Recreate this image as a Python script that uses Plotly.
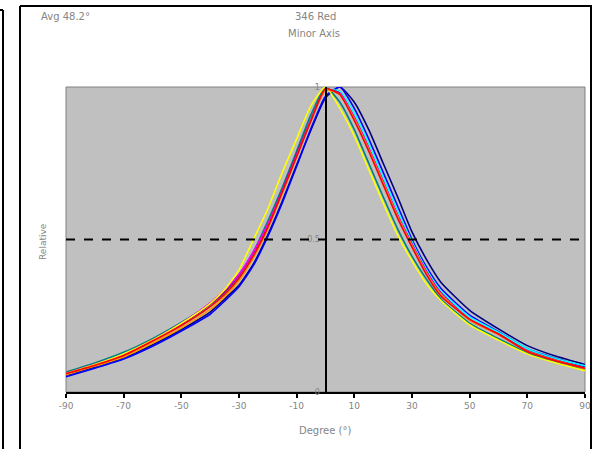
import plotly.graph_objects as go

# ---- data ----
degrees = [-90, -80, -70, -60, -50, -40, -35, -30, -25, -20, -15, -10, -5, 0,
           5, 10, 15, 20, 25, 30, 35, 40, 50, 60, 70, 80, 90]

navy = [0.055, 0.082, 0.112, 0.155, 0.205, 0.262, 0.305, 0.35, 0.42, 0.515, 0.625, 0.745, 0.86, 0.965,
        1.0, 0.95, 0.86, 0.75, 0.64, 0.525, 0.435, 0.36, 0.268, 0.207, 0.152, 0.117, 0.09]
blue = [0.05, 0.078, 0.108, 0.15, 0.2, 0.255, 0.298, 0.345, 0.415, 0.51, 0.62, 0.74, 0.865, 0.97,
        1.0, 0.93, 0.83, 0.72, 0.61, 0.5, 0.41, 0.34, 0.252, 0.198, 0.142, 0.11, 0.083]
cyan = [0.062, 0.092, 0.125, 0.17, 0.222, 0.285, 0.325, 0.38, 0.455, 0.55, 0.66, 0.78, 0.9, 0.99,
        0.985, 0.915, 0.815, 0.705, 0.595, 0.492, 0.402, 0.332, 0.246, 0.196, 0.142, 0.109, 0.086]
teal = [0.065, 0.095, 0.13, 0.175, 0.228, 0.29, 0.33, 0.385, 0.46, 0.56, 0.67, 0.79, 0.91, 1.0,
        0.95, 0.86, 0.75, 0.64, 0.535, 0.445, 0.37, 0.305, 0.225, 0.175, 0.128, 0.097, 0.072]
purple = [0.06, 0.089, 0.121, 0.168, 0.222, 0.287, 0.328, 0.382, 0.458, 0.548, 0.66, 0.78, 0.895, 0.992,
          0.98, 0.9, 0.8, 0.69, 0.58, 0.485, 0.395, 0.325, 0.238, 0.19, 0.135, 0.104, 0.078]
magenta = [0.06, 0.09, 0.122, 0.17, 0.225, 0.292, 0.334, 0.386, 0.46, 0.55, 0.658, 0.776, 0.892, 0.99,
           0.978, 0.898, 0.798, 0.688, 0.578, 0.483, 0.393, 0.323, 0.236, 0.188, 0.134, 0.103, 0.077]
yellow = [0.06, 0.09, 0.125, 0.17, 0.225, 0.29, 0.335, 0.4, 0.5, 0.6, 0.72, 0.83, 0.94, 1.0,
          0.93, 0.84, 0.73, 0.62, 0.515, 0.43, 0.355, 0.3, 0.22, 0.17, 0.125, 0.095, 0.07]
orange = [0.057, 0.085, 0.115, 0.16, 0.21, 0.27, 0.312, 0.365, 0.44, 0.535, 0.65, 0.77, 0.89, 0.99,
          0.975, 0.895, 0.795, 0.685, 0.575, 0.48, 0.39, 0.32, 0.235, 0.188, 0.134, 0.103, 0.077]
red = [0.06, 0.088, 0.12, 0.167, 0.218, 0.28, 0.32, 0.373, 0.447, 0.54, 0.655, 0.772, 0.89, 0.995,
       0.975, 0.89, 0.79, 0.68, 0.57, 0.475, 0.385, 0.315, 0.238, 0.19, 0.133, 0.102, 0.078]

series = [
    ("navy", navy, "#000080"),
    ("blue", blue, "#0000FF"),
    ("cyan", cyan, "#00FFFF"),
    ("teal", teal, "#008080"),
    ("purple", purple, "#800080"),
    ("magenta", magenta, "#FF00FF"),
    ("yellow", yellow, "#FFFF00"),
    ("orange", orange, "#FF9900"),
    ("red", red, "#FF0000"),
]

x_ticks = [-90, -70, -50, -30, -10, 10, 30, 50, 70, 90]
y_ticks = [0, 0.5, 1]
y_tick_text = ["0", "0.5", "1"]

title_main = "346 Red"
title_sub = "Minor Axis"
avg_text = "Avg 48.2°"
x_title = "Degree (°)"
y_title = "Relative"

FONT = "DejaVu Sans, Verdana, sans-serif"
GRAY = "#858585"
TS = 10

fig = go.Figure()
for name, vals, col in series:
    fig.add_trace(go.Scatter(x=degrees, y=vals, mode="lines", name=name,
                             line=dict(color=col, width=1.6, shape="spline", smoothing=0.5),
                             showlegend=False, hoverinfo="skip"))

# dashed half-max line
fig.add_hline(y=0.5, line=dict(color="black", width=1.8, dash="dash"), layer="above")

W, H = 592, 449
L, R, T, B = 66, 7, 87, 57
pw, ph = W - L - R, H - T - B

def px(x):
    return (x - L) / pw

def py(y):
    return (H - B - y) / ph

shapes = [
    # outer chart border
    dict(type="line", xref="paper", yref="paper", x0=px(20), x1=px(20), y0=py(6), y1=py(452),
         line=dict(color="black", width=2)),
    dict(type="line", xref="paper", yref="paper", x0=px(20), x1=px(593), y0=py(6), y1=py(6),
         line=dict(color="black", width=2)),
    dict(type="line", xref="paper", yref="paper", x0=px(591), x1=px(591), y0=py(6), y1=py(452),
         line=dict(color="black", width=2)),
    # left neighbouring panel edge
    dict(type="line", xref="paper", yref="paper", x0=px(3), x1=px(3), y0=py(10), y1=py(452),
         line=dict(color="black", width=2)),
    dict(type="line", xref="paper", yref="paper", x0=px(-2), x1=px(3), y0=py(10), y1=py(10),
         line=dict(color="black", width=2)),
]
fig.update_layout(shapes=list(fig.layout.shapes) + shapes)

annos = [
    dict(text=title_main, x=px(315), y=py(17), xref="paper", yref="paper", showarrow=False,
         font=dict(size=TS, color=GRAY, family=FONT), xanchor="center", yanchor="middle"),
    dict(text=title_sub, x=px(314), y=py(34), xref="paper", yref="paper", showarrow=False,
         font=dict(size=TS, color=GRAY, family=FONT), xanchor="center", yanchor="middle"),
    dict(text=avg_text, x=px(39), y=py(17), xref="paper", yref="paper", showarrow=False,
         font=dict(size=TS, color=GRAY, family=FONT), xanchor="left", yanchor="middle"),
    dict(text=x_title, x=px(325), y=py(430), xref="paper", yref="paper", showarrow=False,
         font=dict(size=TS, color=GRAY, family=FONT), xanchor="center", yanchor="middle"),
    dict(text=y_title, x=px(43), y=py(242), xref="paper", yref="paper", showarrow=False,
         textangle=-90, font=dict(size=9, color=GRAY, family=FONT), xanchor="center", yanchor="middle"),
]
fig.update_layout(annotations=annos)

fig.update_layout(
    width=W, height=H, autosize=False,
    margin=dict(l=L, r=R, t=T, b=B, pad=0, autoexpand=False),
    paper_bgcolor="white",
    plot_bgcolor="#c0c0c0",
    xaxis=dict(range=[-90, 90], tickvals=x_ticks, ticktext=[str(v) for v in x_ticks],
               showgrid=False, zeroline=False, showline=True, linecolor="black", linewidth=2,
               ticks="outside", ticklen=4, tickwidth=2, tickcolor="black", automargin=False,
               tickfont=dict(size=9, color=GRAY, family=FONT), mirror=False),
    yaxis=dict(range=[0, 1], tickvals=y_ticks, ticktext=y_tick_text, showgrid=False, zeroline=False,
               showline=True, linecolor="black", linewidth=2, ticks="", anchor="free", position=0.5,
               ticklabelstandoff=3, automargin=False,
               tickfont=dict(size=8, color=GRAY, family=FONT)),
)

# plot area frame (thin gray)
fig.add_shape(type="rect", xref="paper", yref="paper", x0=0, x1=1, y0=0, y1=1,
              line=dict(color="#808080", width=1), layer="below")

post = "document.body.style.margin='0';document.body.style.overflow='hidden';"

fig.write_html("out.html", config={"displayModeBar": False}, post_script=post)
